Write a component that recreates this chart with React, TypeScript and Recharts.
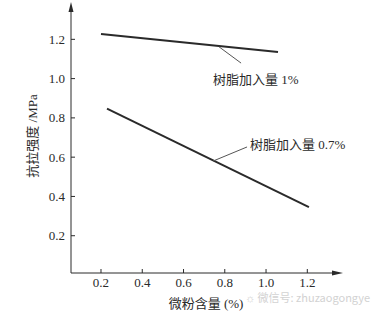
import React from 'react';
import { LineChart, Line, XAxis, YAxis, ReferenceLine, ReferenceDot } from 'recharts';

// 微粉含量 (%) vs 抗拉强度 (MPa)
const xTicks = [0.2, 0.4, 0.6, 0.8, 1.0, 1.2];
const yTicks = [0.2, 0.4, 0.6, 0.8, 1.0, 1.2];

const resin1X = [0.2, 1.058];
const resin1Y = [1.227, 1.135];
const resin07X = [0.229, 1.208];
const resin07Y = [0.847, 0.346];

const labelResin1 = '树脂加入量 1%';
const labelResin07 = '树脂加入量 0.7%';

const X_MIN = 0.0546;
const X_MAX = 1.3488;
const Y_MIN = 0.0102;
const Y_MAX = 1.3697;

const serif = '"Liberation Serif", "Times New Roman", Tinos, "DejaVu Serif", "Noto Sans CJK SC", serif';
const ink = '#2a2a2a';

const resin1 = resin1X.map((x, i) => ({ x, y: resin1Y[i] }));
const resin07 = resin07X.map((x, i) => ({ x, y: resin07Y[i] }));

const XTick = (props: any) => {
  const { x, y, payload } = props;
  return (
    <g>
      <line x1={x} x2={x} y1={y} y2={y - 4} stroke={ink} strokeWidth={1} />
      <text x={x} y={y + 13.5} textAnchor="middle" fontSize={13} style={{ fontFamily: serif }} fill={ink}>
        {payload.value.toFixed(1)}
      </text>
    </g>
  );
};

const YTick = (props: any) => {
  const { x, y, payload } = props;
  return (
    <g>
      <line x1={x} x2={x + 4} y1={y} y2={y} stroke={ink} strokeWidth={1} />
      <text x={x - 6} y={y + 4.5} textAnchor="end" fontSize={13} style={{ fontFamily: serif }} fill={ink}>
        {payload.value.toFixed(1)}
      </text>
    </g>
  );
};

const ArrowRight = (props: any) => (
  <path d={`M${props.cx - 6},${props.cy - 2.5} L${props.cx + 5},${props.cy} L${props.cx - 6},${props.cy + 2.5} Z`} fill={ink} />
);
const ArrowUp = (props: any) => (
  <path d={`M${props.cx - 2.5},${props.cy + 6} L${props.cx},${props.cy - 4} L${props.cx + 2.5},${props.cy + 6} Z`} fill={ink} />
);

const textAt = (txt: string) => (props: any) => (
  <text x={props.cx} y={props.cy + 4.5} fontSize={13} style={{ fontFamily: serif }} fill={ink}>
    {txt}
  </text>
);

export default function App() {
  return (
    <div style={{ position: 'absolute', left: 0, top: 0, width: 376, height: 313, background: '#fff' }}>
      <LineChart width={376} height={313} margin={{ top: 6, right: 38, left: 1, bottom: 0 }}>
        <XAxis
          type="number"
          dataKey="x"
          domain={[X_MIN, X_MAX]}
          ticks={xTicks}
          tick={<XTick />}
          tickSize={0}
          tickMargin={0}
          height={40}
          stroke={ink}
          allowDataOverflow
          label={{
            content: () => (
              <text x={206} y={308} textAnchor="middle" fontSize={13} style={{ fontFamily: serif }} fill={ink}>
                微粉含量 (%)
              </text>
            ),
          }}
        />
        <YAxis
          type="number"
          domain={[Y_MIN, Y_MAX]}
          ticks={yTicks}
          tick={<YTick />}
          tickSize={0}
          tickMargin={0}
          width={70}
          stroke={ink}
          allowDataOverflow
          label={{
            content: () => (
              <text
                x={32}
                y={136}
                transform="rotate(-90 32 136)"
                textAnchor="middle"
                dominantBaseline="central"
                fontSize={13}
                style={{ fontFamily: serif }}
                fill={ink}
              >
                抗拉强度 /MPa
              </text>
            ),
          }}
        />
        <Line data={resin1} dataKey="y" stroke={ink} strokeWidth={2} dot={false} isAnimationActive={false} />
        <Line data={resin07} dataKey="y" stroke={ink} strokeWidth={2} dot={false} isAnimationActive={false} />
        <ReferenceLine
          segment={[{ x: 0.772, y: 1.162 }, { x: 0.879, y: 1.079 }]}
          stroke="#555"
          strokeWidth={1}
        />
        <ReferenceLine
          segment={[{ x: 0.743, y: 0.58 }, { x: 0.908, y: 0.652 }]}
          stroke="#555"
          strokeWidth={1}
        />
        <ReferenceDot x={0.743} y={0.993} r={0} shape={textAt(labelResin1)} />
        <ReferenceDot x={0.922} y={0.662} r={0} shape={textAt(labelResin07)} />
        <ReferenceDot x={X_MAX} y={Y_MIN} r={0} shape={ArrowRight} ifOverflow="visible" />
        <ReferenceDot x={X_MIN} y={Y_MAX} r={0} shape={ArrowUp} ifOverflow="visible" />
      </LineChart>
      <div
        style={{
          position: 'absolute',
          left: 245,
          top: 292,
          fontFamily: '"Noto Sans CJK SC", "Noto Sans", sans-serif',
          fontSize: 11,
          color: '#d2d2d2',
          whiteSpace: 'nowrap',
          lineHeight: '11px',
        }}
      >
        ☼ 微信号: zhuzaogongye
      </div>
    </div>
  );
}
